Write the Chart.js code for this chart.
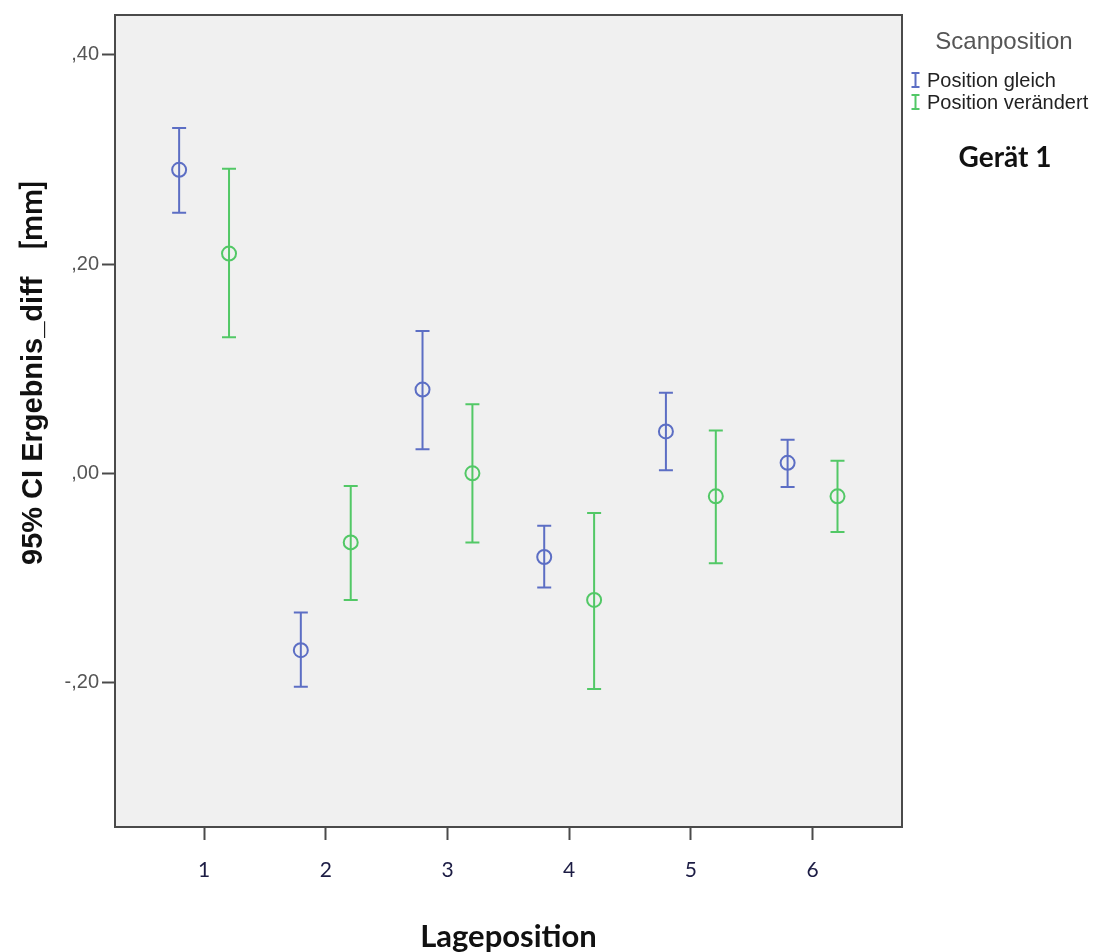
<!DOCTYPE html>
<html>
<head>
<meta charset="utf-8">
<script src="https://cdn.jsdelivr.net/npm/chart.js@4/dist/chart.umd.min.js"></script>
<style>
  html, body { margin: 0; padding: 0; background: #ffffff; }
  #wrap { width: 1102px; height: 952px; position: relative; }
</style>
</head>
<body>
<div id="wrap"><canvas id="c" width="1102" height="952"></canvas></div>
<script>
// ---- data ----
const categories = [1, 2, 3, 4, 5, 6];
const xTickLabels = ['1', '2', '3', '4', '5', '6'];
const yTickValues = [-0.2, 0, 0.2, 0.4];
const yTickLabels = ['-,20', ',00', ',20', ',40'];

const seriesNames = ['Position gleich', 'Position verändert'];

const gleichMean = [0.290, -0.169, 0.080, -0.080, 0.040, 0.010];
const gleichLow  = [0.249, -0.204, 0.023, -0.109, 0.003, -0.013];
const gleichHigh = [0.330, -0.133, 0.136, -0.050, 0.077, 0.032];

const veraendertMean = [0.210, -0.066, 0.000, -0.121, -0.022, -0.022];
const veraendertLow  = [0.130, -0.121, -0.066, -0.206, -0.086, -0.056];
const veraendertHigh = [0.291, -0.012, 0.066, -0.038, 0.041, 0.012];

const legendTitle = 'Scanposition';
const sideTitle = 'Gerät 1';
const yTitleMain = '95% CI Ergebnis_diff';
const yTitleUnit = '[mm]';
const xTitle = 'Lageposition';

// ---- styling ----
const BLUE = 'rgb(92,110,196)';
const GREEN = 'rgb(82,200,102)';
const FRAME = '#4a4a4a';
const DODGE = 0.205;

function makeData(means, lows, highs, shift) {
  return categories.map((c, i) => ({ x: c + shift, y: means[i], low: lows[i], high: highs[i] }));
}

const bgPlugin = {
  id: 'bg',
  beforeDraw(chart) {
    const { ctx, chartArea: a } = chart;
    ctx.save();
    ctx.fillStyle = '#f0f0f0';
    ctx.fillRect(a.left, a.top, a.right - a.left, a.bottom - a.top);
    ctx.restore();
  },
  afterDraw(chart) {
    const { ctx, chartArea: a } = chart;
    ctx.save();
    ctx.strokeStyle = FRAME;
    ctx.lineWidth = 2;
    ctx.beginPath();
    ctx.moveTo(a.left, a.top);
    ctx.lineTo(a.right, a.top);
    ctx.lineTo(a.right, a.bottom);
    ctx.stroke();
    ctx.restore();
  }
};

const errorBarPlugin = {
  id: 'errbars',
  beforeDatasetsDraw(chart) {
    const { ctx, scales: { x, y } } = chart;
    ctx.save();
    chart.data.datasets.forEach(ds => {
      ctx.strokeStyle = ds.borderColor;
      ctx.lineWidth = 2;
      ds.data.forEach(p => {
        const px = x.getPixelForValue(p.x);
        const yl = y.getPixelForValue(p.low);
        const yh = y.getPixelForValue(p.high);
        ctx.beginPath();
        ctx.moveTo(px, yl); ctx.lineTo(px, yh);
        ctx.moveTo(px - 7, yl); ctx.lineTo(px + 7, yl);
        ctx.moveTo(px - 7, yh); ctx.lineTo(px + 7, yh);
        ctx.stroke();
      });
    });
    ctx.restore();
  }
};

const textPlugin = {
  id: 'texts',
  afterDraw(chart) {
    const { ctx } = chart;
    ctx.save();
    // y-axis title (rotated)
    ctx.translate(42, 565);
    ctx.rotate(-Math.PI / 2);
    ctx.fillStyle = '#111111';
    ctx.textBaseline = 'alphabetic';
    ctx.textAlign = 'left';
    ctx.font = 'bold 29px "Liberation Sans", Arial, sans-serif';
    ctx.fillText(yTitleMain, 0, 0);
    ctx.font = 'bold 31px Lato, "Open Sans", sans-serif';
    ctx.fillText(yTitleUnit, 315, 0);
    ctx.restore();

    // legend
    ctx.save();
    ctx.textBaseline = 'middle';
    ctx.textAlign = 'center';
    ctx.fillStyle = '#555555';
    ctx.font = '24px "Liberation Sans", Arial, sans-serif';
    ctx.fillText(legendTitle, 1004, 42);

    const rows = [{ c: BLUE, y: 80 }, { c: GREEN, y: 102 }];
    rows.forEach((r, i) => {
      ctx.strokeStyle = r.c;
      ctx.lineWidth = 2;
      ctx.beginPath();
      ctx.moveTo(915.5, r.y - 7); ctx.lineTo(915.5, r.y + 7);
      ctx.moveTo(911.5, r.y - 7); ctx.lineTo(919.5, r.y - 7);
      ctx.moveTo(911.5, r.y + 7); ctx.lineTo(919.5, r.y + 7);
      ctx.stroke();
      ctx.fillStyle = '#222222';
      ctx.textAlign = 'left';
      ctx.font = '20px "Liberation Sans", Arial, sans-serif';
      ctx.fillText(seriesNames[i], 927, r.y + 1);
    });

    ctx.textAlign = 'center';
    ctx.fillStyle = '#111111';
    ctx.font = 'bold 28px Lato, "Open Sans", sans-serif';
    ctx.fillText(sideTitle, 1005, 158);
    ctx.restore();
  }
};

new Chart(document.getElementById('c'), {
  type: 'scatter',
  data: {
    datasets: [
      {
        label: seriesNames[0],
        data: makeData(gleichMean, gleichLow, gleichHigh, -DODGE),
        borderColor: BLUE,
        backgroundColor: 'rgba(0,0,0,0)',
        pointStyle: 'circle',
        pointRadius: 7,
        pointBorderWidth: 2,
        pointHoverRadius: 7
      },
      {
        label: seriesNames[1],
        data: makeData(veraendertMean, veraendertLow, veraendertHigh, DODGE),
        borderColor: GREEN,
        backgroundColor: 'rgba(0,0,0,0)',
        pointStyle: 'circle',
        pointRadius: 7,
        pointBorderWidth: 2,
        pointHoverRadius: 7
      }
    ]
  },
  options: {
    responsive: false,
    devicePixelRatio: 1,
    animation: false,
    layout: { padding: { left: 0, right: 200, top: 14, bottom: 0 } },
    plugins: {
      legend: { display: false },
      tooltip: { enabled: false }
    },
    scales: {
      x: {
        type: 'linear',
        min: 0.268,
        max: 6.735,
        afterBuildTicks(scale) { scale.ticks = categories.map(v => ({ value: v })); },
        afterFit(scale) { scale.height = 125; },
        ticks: {
          autoSkip: false,
          maxRotation: 0,
          padding: 18,
          color: '#1c1c44',
          font: { family: 'Lato, "Open Sans", sans-serif', size: 21 },
          callback(v) { const i = categories.indexOf(v); return i >= 0 ? xTickLabels[i] : ''; }
        },
        grid: { drawOnChartArea: false, drawTicks: true, tickLength: 13, tickColor: FRAME, tickWidth: 2 },
        border: { display: true, color: FRAME, width: 2 },
        title: {
          display: true,
          text: xTitle,
          color: '#111111',
          font: { family: 'Lato, "Open Sans", sans-serif', size: 31, weight: 'bold', lineHeight: 1 },
          padding: { top: 0, bottom: 0 }
        }
      },
      y: {
        type: 'linear',
        min: -0.338,
        max: 0.438,
        afterBuildTicks(scale) { scale.ticks = yTickValues.map(v => ({ value: v })); },
        afterFit(scale) { scale.width = 115; },
        ticks: {
          padding: 3,
          color: '#555555',
          font: { family: '"Liberation Sans", Arial, sans-serif', size: 20 },
          callback(v) { const i = yTickValues.findIndex(t => Math.abs(t - v) < 1e-9); return i >= 0 ? yTickLabels[i] : ''; }
        },
        grid: { drawOnChartArea: false, drawTicks: true, tickLength: 13, tickColor: FRAME, tickWidth: 2 },
        border: { display: true, color: FRAME, width: 2 }
      }
    }
  },
  plugins: [bgPlugin, errorBarPlugin, textPlugin]
});
</script>
</body>
</html>
